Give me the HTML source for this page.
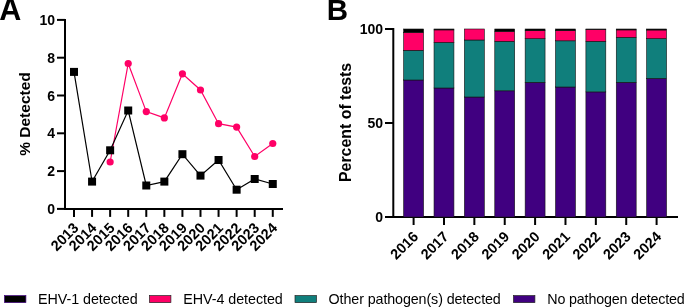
<!DOCTYPE html>
<html><head><meta charset="utf-8"><style>
html,body{margin:0;padding:0;background:#fff;}
svg{display:block;font-family:"Liberation Sans", sans-serif;will-change:transform;}
</style></head><body>
<svg width="685" height="307" viewBox="0 0 685 307">
<text x="-0.8" y="19.6" font-size="30.5" font-weight="bold">A</text>
<text x="326.8" y="19.7" font-size="29.5" font-weight="bold">B</text>
<line x1="65.0" y1="18.9" x2="65.0" y2="209.9" stroke="#000" stroke-width="2"/>
<line x1="64.0" y1="208.9" x2="283" y2="208.9" stroke="#000" stroke-width="2"/>
<line x1="57" y1="208.90" x2="65.0" y2="208.90" stroke="#000" stroke-width="2"/>
<text x="55" y="213.90" font-size="14" font-weight="bold" text-anchor="end">0</text>
<line x1="57" y1="171.10" x2="65.0" y2="171.10" stroke="#000" stroke-width="2"/>
<text x="55" y="176.10" font-size="14" font-weight="bold" text-anchor="end">2</text>
<line x1="57" y1="133.30" x2="65.0" y2="133.30" stroke="#000" stroke-width="2"/>
<text x="55" y="138.30" font-size="14" font-weight="bold" text-anchor="end">4</text>
<line x1="57" y1="95.50" x2="65.0" y2="95.50" stroke="#000" stroke-width="2"/>
<text x="55" y="100.50" font-size="14" font-weight="bold" text-anchor="end">6</text>
<line x1="57" y1="57.70" x2="65.0" y2="57.70" stroke="#000" stroke-width="2"/>
<text x="55" y="62.70" font-size="14" font-weight="bold" text-anchor="end">8</text>
<line x1="57" y1="19.90" x2="65.0" y2="19.90" stroke="#000" stroke-width="2"/>
<text x="55" y="24.90" font-size="14" font-weight="bold" text-anchor="end">10</text>
<line x1="74.00" y1="208.9" x2="74.00" y2="216.9" stroke="#000" stroke-width="2"/>
<text x="79.50" y="228.90" font-size="14.5" font-weight="bold" text-anchor="end" transform="rotate(-45 79.50 228.90)">2013</text>
<line x1="92.07" y1="208.9" x2="92.07" y2="216.9" stroke="#000" stroke-width="2"/>
<text x="97.57" y="228.90" font-size="14.5" font-weight="bold" text-anchor="end" transform="rotate(-45 97.57 228.90)">2014</text>
<line x1="110.14" y1="208.9" x2="110.14" y2="216.9" stroke="#000" stroke-width="2"/>
<text x="115.64" y="228.90" font-size="14.5" font-weight="bold" text-anchor="end" transform="rotate(-45 115.64 228.90)">2015</text>
<line x1="128.21" y1="208.9" x2="128.21" y2="216.9" stroke="#000" stroke-width="2"/>
<text x="133.71" y="228.90" font-size="14.5" font-weight="bold" text-anchor="end" transform="rotate(-45 133.71 228.90)">2016</text>
<line x1="146.28" y1="208.9" x2="146.28" y2="216.9" stroke="#000" stroke-width="2"/>
<text x="151.78" y="228.90" font-size="14.5" font-weight="bold" text-anchor="end" transform="rotate(-45 151.78 228.90)">2017</text>
<line x1="164.35" y1="208.9" x2="164.35" y2="216.9" stroke="#000" stroke-width="2"/>
<text x="169.85" y="228.90" font-size="14.5" font-weight="bold" text-anchor="end" transform="rotate(-45 169.85 228.90)">2018</text>
<line x1="182.42" y1="208.9" x2="182.42" y2="216.9" stroke="#000" stroke-width="2"/>
<text x="187.92" y="228.90" font-size="14.5" font-weight="bold" text-anchor="end" transform="rotate(-45 187.92 228.90)">2019</text>
<line x1="200.49" y1="208.9" x2="200.49" y2="216.9" stroke="#000" stroke-width="2"/>
<text x="205.99" y="228.90" font-size="14.5" font-weight="bold" text-anchor="end" transform="rotate(-45 205.99 228.90)">2020</text>
<line x1="218.56" y1="208.9" x2="218.56" y2="216.9" stroke="#000" stroke-width="2"/>
<text x="224.06" y="228.90" font-size="14.5" font-weight="bold" text-anchor="end" transform="rotate(-45 224.06 228.90)">2021</text>
<line x1="236.63" y1="208.9" x2="236.63" y2="216.9" stroke="#000" stroke-width="2"/>
<text x="242.13" y="228.90" font-size="14.5" font-weight="bold" text-anchor="end" transform="rotate(-45 242.13 228.90)">2022</text>
<line x1="254.70" y1="208.9" x2="254.70" y2="216.9" stroke="#000" stroke-width="2"/>
<text x="260.20" y="228.90" font-size="14.5" font-weight="bold" text-anchor="end" transform="rotate(-45 260.20 228.90)">2023</text>
<line x1="272.77" y1="208.9" x2="272.77" y2="216.9" stroke="#000" stroke-width="2"/>
<text x="278.27" y="228.90" font-size="14.5" font-weight="bold" text-anchor="end" transform="rotate(-45 278.27 228.90)">2024</text>
<text x="0" y="0" font-size="15.5" font-weight="bold" text-anchor="middle" transform="translate(29.7 114) rotate(-90)">% Detected</text>
<polyline fill="none" stroke="#ff0066" stroke-width="1.2" points="110.14,162.00 128.21,63.50 146.28,111.60 164.35,117.90 182.42,73.80 200.49,90.00 218.56,123.70 236.63,127.10 254.70,156.50 272.77,143.50"/>
<circle cx="110.14" cy="162.00" r="3.6" fill="#ff0066"/>
<circle cx="128.21" cy="63.50" r="3.6" fill="#ff0066"/>
<circle cx="146.28" cy="111.60" r="3.6" fill="#ff0066"/>
<circle cx="164.35" cy="117.90" r="3.6" fill="#ff0066"/>
<circle cx="182.42" cy="73.80" r="3.6" fill="#ff0066"/>
<circle cx="200.49" cy="90.00" r="3.6" fill="#ff0066"/>
<circle cx="218.56" cy="123.70" r="3.6" fill="#ff0066"/>
<circle cx="236.63" cy="127.10" r="3.6" fill="#ff0066"/>
<circle cx="254.70" cy="156.50" r="3.6" fill="#ff0066"/>
<circle cx="272.77" cy="143.50" r="3.6" fill="#ff0066"/>
<polyline fill="none" stroke="#000" stroke-width="1.2" points="74.00,71.90 92.07,181.60 110.14,150.30 128.21,110.50 146.28,185.50 164.35,181.60 182.42,154.20 200.49,175.60 218.56,160.00 236.63,189.70 254.70,179.00 272.77,184.00"/>
<rect x="70.00" y="67.90" width="8" height="8" fill="#000"/>
<rect x="88.07" y="177.60" width="8" height="8" fill="#000"/>
<rect x="106.14" y="146.30" width="8" height="8" fill="#000"/>
<rect x="124.21" y="106.50" width="8" height="8" fill="#000"/>
<rect x="142.28" y="181.50" width="8" height="8" fill="#000"/>
<rect x="160.35" y="177.60" width="8" height="8" fill="#000"/>
<rect x="178.42" y="150.20" width="8" height="8" fill="#000"/>
<rect x="196.49" y="171.60" width="8" height="8" fill="#000"/>
<rect x="214.56" y="156.00" width="8" height="8" fill="#000"/>
<rect x="232.63" y="185.70" width="8" height="8" fill="#000"/>
<rect x="250.70" y="175.00" width="8" height="8" fill="#000"/>
<rect x="268.77" y="180.00" width="8" height="8" fill="#000"/>
<line x1="393.3" y1="28.0" x2="393.3" y2="218.0" stroke="#000" stroke-width="2"/>
<line x1="392.3" y1="217.0" x2="678" y2="217.0" stroke="#000" stroke-width="2"/>
<line x1="385" y1="217.00" x2="393.3" y2="217.00" stroke="#000" stroke-width="2"/>
<text x="383" y="222.00" font-size="14" font-weight="bold" text-anchor="end">0</text>
<line x1="385" y1="123.00" x2="393.3" y2="123.00" stroke="#000" stroke-width="2"/>
<text x="383" y="128.00" font-size="14" font-weight="bold" text-anchor="end">50</text>
<line x1="385" y1="29.00" x2="393.3" y2="29.00" stroke="#000" stroke-width="2"/>
<text x="383" y="34.00" font-size="14" font-weight="bold" text-anchor="end">100</text>
<line x1="413.60" y1="217.0" x2="413.60" y2="225.0" stroke="#000" stroke-width="2"/>
<text x="419.10" y="237.50" font-size="14.5" font-weight="bold" text-anchor="end" transform="rotate(-45 419.10 237.50)">2016</text>
<line x1="443.98" y1="217.0" x2="443.98" y2="225.0" stroke="#000" stroke-width="2"/>
<text x="449.48" y="237.50" font-size="14.5" font-weight="bold" text-anchor="end" transform="rotate(-45 449.48 237.50)">2017</text>
<line x1="474.35" y1="217.0" x2="474.35" y2="225.0" stroke="#000" stroke-width="2"/>
<text x="479.85" y="237.50" font-size="14.5" font-weight="bold" text-anchor="end" transform="rotate(-45 479.85 237.50)">2018</text>
<line x1="504.73" y1="217.0" x2="504.73" y2="225.0" stroke="#000" stroke-width="2"/>
<text x="510.23" y="237.50" font-size="14.5" font-weight="bold" text-anchor="end" transform="rotate(-45 510.23 237.50)">2019</text>
<line x1="535.10" y1="217.0" x2="535.10" y2="225.0" stroke="#000" stroke-width="2"/>
<text x="540.60" y="237.50" font-size="14.5" font-weight="bold" text-anchor="end" transform="rotate(-45 540.60 237.50)">2020</text>
<line x1="565.48" y1="217.0" x2="565.48" y2="225.0" stroke="#000" stroke-width="2"/>
<text x="570.98" y="237.50" font-size="14.5" font-weight="bold" text-anchor="end" transform="rotate(-45 570.98 237.50)">2021</text>
<line x1="595.85" y1="217.0" x2="595.85" y2="225.0" stroke="#000" stroke-width="2"/>
<text x="601.35" y="237.50" font-size="14.5" font-weight="bold" text-anchor="end" transform="rotate(-45 601.35 237.50)">2022</text>
<line x1="626.23" y1="217.0" x2="626.23" y2="225.0" stroke="#000" stroke-width="2"/>
<text x="631.73" y="237.50" font-size="14.5" font-weight="bold" text-anchor="end" transform="rotate(-45 631.73 237.50)">2023</text>
<line x1="656.60" y1="217.0" x2="656.60" y2="225.0" stroke="#000" stroke-width="2"/>
<text x="662.10" y="237.50" font-size="14.5" font-weight="bold" text-anchor="end" transform="rotate(-45 662.10 237.50)">2024</text>
<text x="0" y="0" font-size="15.9" font-weight="bold" text-anchor="middle" transform="translate(351 122.4) rotate(-90)">Percent of tests</text>
<rect x="403.65" y="80.00" width="19.9" height="137.00" fill="#400080" stroke="#111" stroke-width="0.6"/>
<rect x="403.65" y="50.30" width="19.9" height="29.70" fill="#107f7c" stroke="#111" stroke-width="0.6"/>
<rect x="403.65" y="32.50" width="19.9" height="17.80" fill="#ff0066" stroke="#111" stroke-width="0.6"/>
<rect x="403.65" y="29.00" width="19.9" height="3.50" fill="#000000" stroke="#111" stroke-width="0.6"/>
<rect x="434.03" y="88.00" width="19.9" height="129.00" fill="#400080" stroke="#111" stroke-width="0.6"/>
<rect x="434.03" y="42.40" width="19.9" height="45.60" fill="#107f7c" stroke="#111" stroke-width="0.6"/>
<rect x="434.03" y="29.90" width="19.9" height="12.50" fill="#ff0066" stroke="#111" stroke-width="0.6"/>
<rect x="434.03" y="29.00" width="19.9" height="0.90" fill="#000000" stroke="#111" stroke-width="0.6"/>
<rect x="464.40" y="97.00" width="19.9" height="120.00" fill="#400080" stroke="#111" stroke-width="0.6"/>
<rect x="464.40" y="40.00" width="19.9" height="57.00" fill="#107f7c" stroke="#111" stroke-width="0.6"/>
<rect x="464.40" y="29.00" width="19.9" height="11.00" fill="#ff0066" stroke="#111" stroke-width="0.6"/>
<rect x="464.40" y="29.00" width="19.9" height="0.00" fill="#000000" stroke="#111" stroke-width="0.6"/>
<rect x="494.78" y="90.80" width="19.9" height="126.20" fill="#400080" stroke="#111" stroke-width="0.6"/>
<rect x="494.78" y="41.30" width="19.9" height="49.50" fill="#107f7c" stroke="#111" stroke-width="0.6"/>
<rect x="494.78" y="31.50" width="19.9" height="9.80" fill="#ff0066" stroke="#111" stroke-width="0.6"/>
<rect x="494.78" y="29.00" width="19.9" height="2.50" fill="#000000" stroke="#111" stroke-width="0.6"/>
<rect x="525.15" y="82.30" width="19.9" height="134.70" fill="#400080" stroke="#111" stroke-width="0.6"/>
<rect x="525.15" y="38.70" width="19.9" height="43.60" fill="#107f7c" stroke="#111" stroke-width="0.6"/>
<rect x="525.15" y="30.70" width="19.9" height="8.00" fill="#ff0066" stroke="#111" stroke-width="0.6"/>
<rect x="525.15" y="29.00" width="19.9" height="1.70" fill="#000000" stroke="#111" stroke-width="0.6"/>
<rect x="555.52" y="87.00" width="19.9" height="130.00" fill="#400080" stroke="#111" stroke-width="0.6"/>
<rect x="555.52" y="40.80" width="19.9" height="46.20" fill="#107f7c" stroke="#111" stroke-width="0.6"/>
<rect x="555.52" y="30.60" width="19.9" height="10.20" fill="#ff0066" stroke="#111" stroke-width="0.6"/>
<rect x="555.52" y="29.00" width="19.9" height="1.60" fill="#000000" stroke="#111" stroke-width="0.6"/>
<rect x="585.90" y="91.90" width="19.9" height="125.10" fill="#400080" stroke="#111" stroke-width="0.6"/>
<rect x="585.90" y="41.30" width="19.9" height="50.60" fill="#107f7c" stroke="#111" stroke-width="0.6"/>
<rect x="585.90" y="29.50" width="19.9" height="11.80" fill="#ff0066" stroke="#111" stroke-width="0.6"/>
<rect x="585.90" y="29.00" width="19.9" height="0.50" fill="#000000" stroke="#111" stroke-width="0.6"/>
<rect x="616.27" y="82.30" width="19.9" height="134.70" fill="#400080" stroke="#111" stroke-width="0.6"/>
<rect x="616.27" y="37.30" width="19.9" height="45.00" fill="#107f7c" stroke="#111" stroke-width="0.6"/>
<rect x="616.27" y="29.90" width="19.9" height="7.40" fill="#ff0066" stroke="#111" stroke-width="0.6"/>
<rect x="616.27" y="29.00" width="19.9" height="0.90" fill="#000000" stroke="#111" stroke-width="0.6"/>
<rect x="646.65" y="78.40" width="19.9" height="138.60" fill="#400080" stroke="#111" stroke-width="0.6"/>
<rect x="646.65" y="38.60" width="19.9" height="39.80" fill="#107f7c" stroke="#111" stroke-width="0.6"/>
<rect x="646.65" y="30.00" width="19.9" height="8.60" fill="#ff0066" stroke="#111" stroke-width="0.6"/>
<rect x="646.65" y="29.00" width="19.9" height="1.00" fill="#000000" stroke="#111" stroke-width="0.6"/>
<rect x="4.5" y="295.6" width="21.4" height="7" fill="#000000" stroke="#400080" stroke-width="0.7"/>
<text x="38.0" y="303.5" font-size="14.3" textLength="99.6">EHV-1 detected</text>
<rect x="149.5" y="295.6" width="21.4" height="7" fill="#ff0066" stroke="#222" stroke-width="0.7"/>
<text x="183.2" y="303.5" font-size="14.3" textLength="99.6">EHV-4 detected</text>
<rect x="295.0" y="295.6" width="21.4" height="7" fill="#107f7c" stroke="#222" stroke-width="0.7"/>
<text x="328.6" y="303.5" font-size="14.3" textLength="172.2">Other pathogen(s) detected</text>
<rect x="513.5" y="295.6" width="21.4" height="7" fill="#400080" stroke="#222" stroke-width="0.7"/>
<text x="547.3" y="303.5" font-size="14.3" textLength="137.5">No pathogen detected</text>
</svg>
</body></html>
